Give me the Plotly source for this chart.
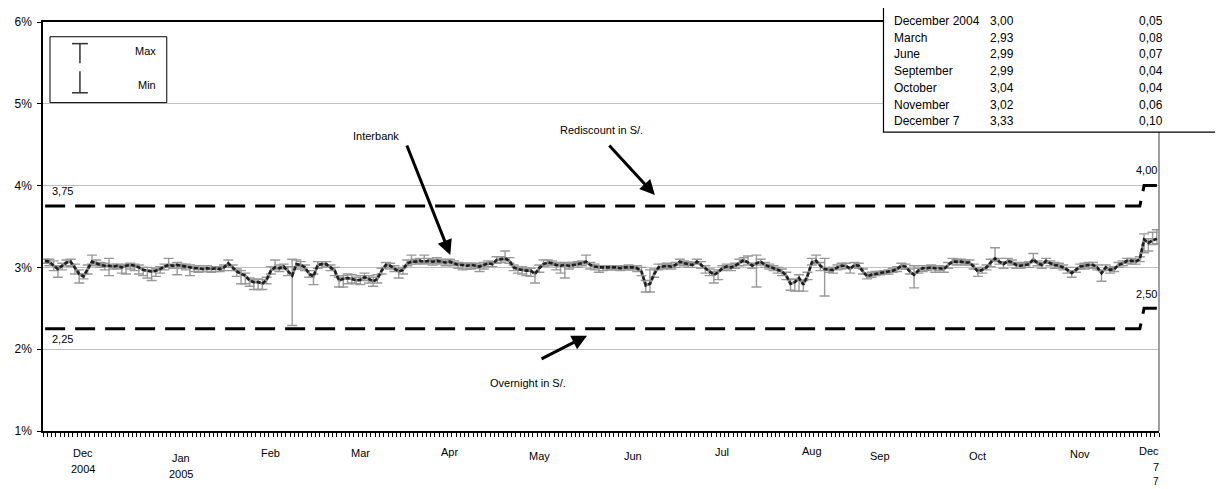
import plotly.graph_objects as go

# ---------------- data ----------------
interbank = [
    3.08, 3.07, 3.02, 2.98, 3.02, 3.06, 3.07, 3.00, 2.92, 2.89,
    2.98, 3.07, 3.05, 3.03, 3.02, 3.02, 3.01, 3.02, 3.00, 3.02,
    3.03, 3.02, 3.00, 2.97, 2.96, 2.95, 2.96, 2.98, 3.01, 3.03,
    3.02, 3.03, 3.02, 3.01, 3.00, 2.99, 2.99, 2.98, 2.99, 2.98,
    2.99, 2.98, 3.00, 3.05, 3.00, 2.95, 2.92, 2.90, 2.84, 2.82,
    2.82, 2.80, 2.85, 2.96, 3.00, 2.99, 3.01, 2.96, 2.90, 3.04,
    3.03, 3.00, 2.92, 2.89, 3.03, 3.04, 3.04, 3.00, 2.96, 2.84,
    2.86, 2.87, 2.86, 2.84, 2.85, 2.88, 2.86, 2.83, 2.86, 2.96,
    3.03, 3.02, 2.98, 2.95, 2.97, 3.05, 3.07, 3.07, 3.08, 3.07,
    3.08, 3.07, 3.08, 3.07, 3.06, 3.07, 3.05, 3.03, 3.03, 3.02,
    3.03, 3.02, 3.01, 3.03, 3.05, 3.04, 3.09, 3.10, 3.11, 3.08,
    3.00, 2.98, 2.97, 2.96, 2.96, 2.92, 2.99, 3.04, 3.06, 3.05,
    3.03, 3.02, 3.03, 3.02, 3.03, 3.04, 3.05, 3.07, 3.03, 3.01,
    3.00, 3.00, 3.00, 3.00, 3.00, 2.99, 3.00, 3.00, 3.00, 2.99,
    2.95, 2.78, 2.80, 2.92, 3.00, 3.01, 3.02, 3.01, 3.03, 3.07,
    3.05, 3.04, 3.03, 3.07, 3.03, 2.99, 2.95, 2.91, 2.94, 2.99,
    3.01, 3.00, 3.02, 3.06, 3.09, 3.06, 3.02, 3.05, 3.07, 3.03,
    3.01, 2.99, 2.97, 2.95, 2.90, 2.80, 2.82, 2.87, 2.79, 2.90,
    3.06, 3.08, 3.02, 2.98, 2.97, 2.97, 3.00, 3.02, 3.02, 2.98,
    3.03, 3.02, 2.95, 2.89, 2.91, 2.92, 2.93, 2.94, 2.95, 2.96,
    2.98, 3.02, 3.01, 2.95, 2.91, 2.96, 2.99, 2.99, 3.00, 2.99,
    2.99, 2.98, 3.03, 3.07, 3.07, 3.07, 3.06, 3.06, 3.01, 2.95,
    2.97, 3.00, 3.06, 3.11, 3.07, 3.04, 3.08, 3.06, 3.03, 3.02,
    3.03, 3.04, 3.10, 3.05, 3.03, 3.08, 3.05, 3.03, 3.02, 3.00,
    2.97, 2.93, 2.97, 3.01, 3.02, 3.03, 3.03, 3.00, 2.93, 3.00,
    2.97, 2.98, 3.03, 3.05, 3.08, 3.08, 3.07, 3.10, 3.34, 3.30,
    3.33, 3.35,
]

# distance from the daily average up to the daily maximum
err_max = [
    0.02, 0.03, 0.06, 0.04, 0.03, 0.03, 0.03, 0.04, 0.05, 0.03,
    0.05, 0.08, 0.04, 0.03, 0.03, 0.09, 0.03, 0.02, 0.03, 0.02,
    0.02, 0.02, 0.03, 0.03, 0.04, 0.02, 0.03, 0.03, 0.03, 0.08,
    0.02, 0.03, 0.02, 0.03, 0.03, 0.02, 0.03, 0.02, 0.03, 0.02,
    0.02, 0.03, 0.03, 0.04, 0.03, 0.03, 0.04, 0.03, 0.03, 0.03,
    0.04, 0.05, 0.03, 0.05, 0.09, 0.04, 0.03, 0.05, 0.20, 0.05,
    0.04, 0.03, 0.04, 0.03, 0.04, 0.03, 0.03, 0.03, 0.04, 0.04,
    0.04, 0.05, 0.05, 0.04, 0.05, 0.05, 0.04, 0.05, 0.05, 0.03,
    0.03, 0.03, 0.04, 0.04, 0.03, 0.04, 0.08, 0.03, 0.03, 0.08,
    0.03, 0.03, 0.04, 0.03, 0.03, 0.03, 0.03, 0.03, 0.02, 0.03,
    0.02, 0.03, 0.03, 0.03, 0.03, 0.03, 0.04, 0.03, 0.09, 0.04,
    0.03, 0.03, 0.04, 0.03, 0.03, 0.03, 0.04, 0.05, 0.03, 0.03,
    0.03, 0.03, 0.03, 0.03, 0.03, 0.03, 0.03, 0.08, 0.03, 0.03,
    0.02, 0.02, 0.02, 0.02, 0.02, 0.02, 0.02, 0.03, 0.02, 0.03,
    0.05, 0.06, 0.17, 0.06, 0.04, 0.03, 0.03, 0.03, 0.03, 0.03,
    0.03, 0.03, 0.03, 0.03, 0.04, 0.03, 0.03, 0.04, 0.03, 0.03,
    0.03, 0.03, 0.03, 0.04, 0.03, 0.08, 0.03, 0.10, 0.03, 0.03,
    0.03, 0.03, 0.03, 0.03, 0.04, 0.05, 0.04, 0.04, 0.05, 0.04,
    0.05, 0.07, 0.04, 0.13, 0.03, 0.03, 0.03, 0.03, 0.03, 0.03,
    0.03, 0.03, 0.03, 0.03, 0.03, 0.03, 0.02, 0.02, 0.02, 0.03,
    0.03, 0.03, 0.03, 0.03, 0.11, 0.03, 0.03, 0.03, 0.03, 0.03,
    0.03, 0.03, 0.03, 0.04, 0.03, 0.03, 0.03, 0.03, 0.03, 0.03,
    0.03, 0.03, 0.04, 0.13, 0.04, 0.03, 0.03, 0.03, 0.03, 0.03,
    0.03, 0.03, 0.07, 0.03, 0.03, 0.03, 0.03, 0.03, 0.03, 0.03,
    0.03, 0.03, 0.03, 0.03, 0.03, 0.03, 0.03, 0.03, 0.03, 0.03,
    0.03, 0.03, 0.03, 0.03, 0.03, 0.03, 0.03, 0.03, 0.07, 0.05,
    0.10, 0.11,
]

# distance from the daily average down to the daily minimum
err_min = [
    0.03, 0.05, 0.06, 0.10, 0.05, 0.04, 0.06, 0.08, 0.11, 0.03,
    0.06, 0.03, 0.03, 0.03, 0.05, 0.12, 0.03, 0.04, 0.07, 0.10,
    0.05, 0.06, 0.08, 0.07, 0.09, 0.11, 0.07, 0.05, 0.04, 0.03,
    0.03, 0.12, 0.03, 0.04, 0.10, 0.04, 0.05, 0.03, 0.04, 0.04,
    0.04, 0.03, 0.04, 0.05, 0.04, 0.06, 0.12, 0.10, 0.07, 0.09,
    0.09, 0.07, 0.05, 0.04, 0.03, 0.04, 0.03, 0.06, 0.61, 0.03,
    0.05, 0.04, 0.04, 0.10, 0.04, 0.04, 0.03, 0.04, 0.06, 0.08,
    0.10, 0.07, 0.05, 0.04, 0.06, 0.04, 0.05, 0.06, 0.05, 0.04,
    0.03, 0.04, 0.03, 0.08, 0.05, 0.03, 0.03, 0.03, 0.03, 0.03,
    0.03, 0.04, 0.03, 0.03, 0.04, 0.03, 0.03, 0.04, 0.06, 0.04,
    0.05, 0.03, 0.06, 0.05, 0.04, 0.03, 0.04, 0.04, 0.03, 0.03,
    0.04, 0.05, 0.05, 0.06, 0.07, 0.11, 0.05, 0.03, 0.03, 0.03,
    0.06, 0.09, 0.16, 0.04, 0.03, 0.04, 0.03, 0.03, 0.05, 0.04,
    0.06, 0.04, 0.03, 0.03, 0.03, 0.03, 0.03, 0.03, 0.03, 0.04,
    0.05, 0.08, 0.10, 0.04, 0.03, 0.03, 0.03, 0.03, 0.03, 0.04,
    0.03, 0.04, 0.03, 0.03, 0.04, 0.06, 0.05, 0.10, 0.09, 0.03,
    0.03, 0.04, 0.03, 0.04, 0.03, 0.03, 0.03, 0.29, 0.04, 0.03,
    0.03, 0.03, 0.04, 0.05, 0.05, 0.08, 0.11, 0.16, 0.08, 0.05,
    0.03, 0.03, 0.06, 0.33, 0.03, 0.04, 0.03, 0.04, 0.03, 0.05,
    0.03, 0.03, 0.03, 0.03, 0.03, 0.02, 0.02, 0.02, 0.03, 0.02,
    0.03, 0.04, 0.03, 0.03, 0.16, 0.03, 0.04, 0.03, 0.03, 0.05,
    0.03, 0.04, 0.04, 0.03, 0.04, 0.03, 0.03, 0.03, 0.03, 0.06,
    0.04, 0.03, 0.05, 0.04, 0.03, 0.05, 0.03, 0.03, 0.04, 0.03,
    0.03, 0.04, 0.04, 0.03, 0.04, 0.03, 0.03, 0.04, 0.03, 0.03,
    0.04, 0.05, 0.03, 0.03, 0.04, 0.03, 0.04, 0.03, 0.10, 0.04,
    0.04, 0.03, 0.03, 0.03, 0.03, 0.04, 0.03, 0.03, 0.16, 0.10,
    0.05, 0.06,
]

n_days = len(interbank)
days = list(range(n_days))

# corridor rates: (first day index, rate)
rediscount_steps = [(0, 3.75), (258, 4.00)]
overnight_steps = [(0, 2.25), (258, 2.50)]

# x-axis labels: day index of each label
month_labels = ["Dec", "Jan", "Feb", "Mar", "Apr", "May", "Jun", "Jul", "Aug", "Sep", "Oct", "Nov", "Dec"]
month_idx = [9, 32, 53, 74, 95, 116, 138, 159, 180, 196, 219, 243, 261]
sub_labels = ["2004", "2005", "7", "7"]
sub_idx = [9, 32, 261, 261]

y_ticks = [1, 2, 3, 4, 5, 6]

table_names = ["December 2004", "March", "June", "September", "October", "November", "December 7"]
table_avg = [3.00, 2.93, 2.99, 2.99, 3.04, 3.02, 3.33]
table_sd = [0.05, 0.08, 0.07, 0.04, 0.04, 0.06, 0.10]

# ---------------- layout helpers ----------------
# the page body has an 8px margin, so the figure is drawn 8px smaller and
# every page-pixel position below is shifted by that offset
OFF = 8
W, H = 1223 - OFF, 489 - OFF
ML, MR, MT, MB = 41 - OFF, 64, 15 - OFF, 58
PW, PH = W - ML - MR, H - MT - MB


def px(x):
    return (x - OFF - ML) / PW


def py(y):
    return (H - MB - (y - OFF)) / PH


def fmt(v):
    return f"{v:.2f}".replace(".", ",")


def expand(steps):
    out = []
    for d in days:
        val = None
        for start, r in steps:
            if d >= start:
                val = r
        out.append(val)
    return out


rediscount = expand(rediscount_steps)
overnight = expand(overnight_steps)

FONT = "Liberation Sans, Arial, sans-serif"

fig = go.Figure()

# corridor dashed lines
for series in (rediscount, overnight):
    fig.add_trace(go.Scatter(
        x=days, y=series, mode="lines",
        line=dict(color="black", width=3, dash="20px,10px"),
        hoverinfo="skip", showlegend=False,
    ))

# min / max bars
fig.add_trace(go.Scatter(
    x=days, y=interbank, mode="markers",
    marker=dict(size=1, color="rgba(0,0,0,0)"),
    error_y=dict(type="data", symmetric=False, array=err_max, arrayminus=err_min,
                 color="#999999", thickness=1.4, width=5),
    hoverinfo="skip", showlegend=False,
))

# interbank average: grey core with dark dashes on top
fig.add_trace(go.Scatter(
    x=days, y=interbank, mode="lines",
    line=dict(color="#8a8a8a", width=2.6),
    hoverinfo="skip", showlegend=False,
))
fig.add_trace(go.Scatter(
    x=days, y=interbank, mode="lines",
    line=dict(color="#1e1e1e", width=2.6, dash="4px,2px"),
    showlegend=False,
))

annotations = []
# x labels
month_off = [22, 27, 22, 22, 21, 25, 25, 21, 20, 25, 25, 23, 20]
for lab, idx, off in zip(month_labels, month_idx, month_off):
    last = idx == days[-1]
    annotations.append(dict(
        x=px(1161) if last else idx, y=py(431 + off),
        xref="paper" if last else "x", yref="paper",
        text=lab, showarrow=False, xanchor="right" if last else "center", yanchor="middle",
        font=dict(size=11, color="black", family=FONT)))
sub_off = [39, 44, 37, 51]
for lab, idx, off in zip(sub_labels, sub_idx, sub_off):
    last = idx == days[-1]
    annotations.append(dict(
        x=px(1161) if last else idx, y=py(431 + off),
        xref="paper" if last else "x", yref="paper",
        text=lab, showarrow=False, xanchor="right" if last else "center", yanchor="middle",
        font=dict(size=11 if off < 50 else 10, color="black", family=FONT)))

# corridor value labels
corr_labels = [
    (fmt(rediscount_steps[0][1]), 48, 187, "left"),
    (fmt(overnight_steps[0][1]), 48, 337, "left"),
    (fmt(rediscount_steps[1][1]), 1159, 166, "right"),
    (fmt(overnight_steps[1][1]), 1159, 292, "right"),
]
for t, x, y, anc in corr_labels:
    annotations.append(dict(x=px(x), y=py(y), xref="paper", yref="paper", text=t,
                            showarrow=False, xanchor=anc, yanchor="middle",
                            font=dict(size=11, color="black", family=FONT)))

# series labels and arrows
for t, x, y in [("Interbank", 375, 131), ("Rediscount in S/.", 600, 125), ("Overnight in S/.", 527, 382)]:
    annotations.append(dict(x=px(x), y=py(y), xref="paper", yref="paper", text=t,
                            showarrow=False, xanchor="center", yanchor="middle",
                            font=dict(size=11, color="black", family=FONT)))
for (tx, ty), (hx, hy) in [((405, 141), (449, 252)), ((607, 140), (654, 191)), ((539, 358), (586, 334))]:
    annotations.append(dict(x=px(hx), y=py(hy), xref="paper", yref="paper", text="",
                            showarrow=True, arrowhead=2, arrowsize=1, arrowwidth=3,
                            arrowcolor="black", ax=tx - hx, ay=ty - hy))

# legend box texts
annotations.append(dict(x=px(156), y=py(45), xref="paper", yref="paper", text="Max",
                        showarrow=False, xanchor="right", yanchor="middle",
                        font=dict(size=11, color="black", family=FONT)))
annotations.append(dict(x=px(156), y=py(79), xref="paper", yref="paper", text="Min",
                        showarrow=False, xanchor="right", yanchor="middle",
                        font=dict(size=11, color="black", family=FONT)))

# table texts
for k, (name, a, s) in enumerate(zip(table_names, table_avg, table_sd)):
    yy = py(14 + 17 * k)
    annotations.append(dict(x=px(892), y=yy, xref="paper", yref="paper", text=name,
                            showarrow=False, xanchor="left", yanchor="middle",
                            font=dict(size=12, color="black", family=FONT)))
    annotations.append(dict(x=px(988), y=yy, xref="paper", yref="paper", text=fmt(a),
                            showarrow=False, xanchor="left", yanchor="middle",
                            font=dict(size=12, color="black", family=FONT)))
    annotations.append(dict(x=px(1165), y=yy, xref="paper", yref="paper", text=fmt(s),
                            showarrow=False, xanchor="right", yanchor="middle",
                            font=dict(size=12, color="black", family=FONT)))

shapes = []
# right border of plot (grey)
shapes.append(dict(type="line", xref="paper", yref="paper", x0=1, x1=1, y0=0, y1=1,
                   line=dict(color="#808080", width=1.5)))
# legend box
shapes.append(dict(type="rect", xref="paper", yref="paper", x0=px(48), x1=px(165), y0=py(97), y1=py(30),
                   line=dict(color="black", width=1), fillcolor="white", layer="above"))
glyph = [((78, 37), (78, 57)), ((78, 65), (78, 87)), ((70, 37), (86, 37)), ((70, 87), (86, 87))]
for (x0, y0), (x1, y1) in glyph:
    shapes.append(dict(type="line", xref="paper", yref="paper", x0=px(x0), x1=px(x1), y0=py(y0), y1=py(y1),
                       line=dict(color="#333333", width=1.5), layer="above"))
# table box
shapes.append(dict(type="rect", xref="paper", yref="paper", x0=px(883), x1=px(1221), y0=py(127), y1=py(-3),
                   line=dict(color="black", width=1.2), fillcolor="white", layer="above"))

fig.update_layout(
    width=W, height=H,
    margin=dict(l=ML, r=MR, t=MT, b=MB, pad=0),
    paper_bgcolor="white", plot_bgcolor="white",
    font=dict(family=FONT, size=11, color="black"),
    showlegend=False,
    annotations=annotations,
    shapes=shapes,
    xaxis=dict(range=[-0.5, n_days - 0.5], tickmode="linear", tick0=-0.5, dtick=1,
               ticks="outside", ticklen=4, tickwidth=1, tickcolor="black",
               showticklabels=False, showgrid=False, zeroline=False,
               showline=True, linecolor="black", linewidth=1.5, mirror=True),
    yaxis=dict(range=[1, 6], tickvals=y_ticks, ticktext=[f"{v}%" for v in y_ticks],
               ticks="outside", ticklen=4, tickcolor="black", ticklabelstandoff=3,
               showgrid=True, gridcolor="#c0c0c0", gridwidth=1, zeroline=False,
               showline=True, linecolor="black", linewidth=1.5,
               tickfont=dict(size=12, family=FONT)),
)

fig.write_html("out.html")
